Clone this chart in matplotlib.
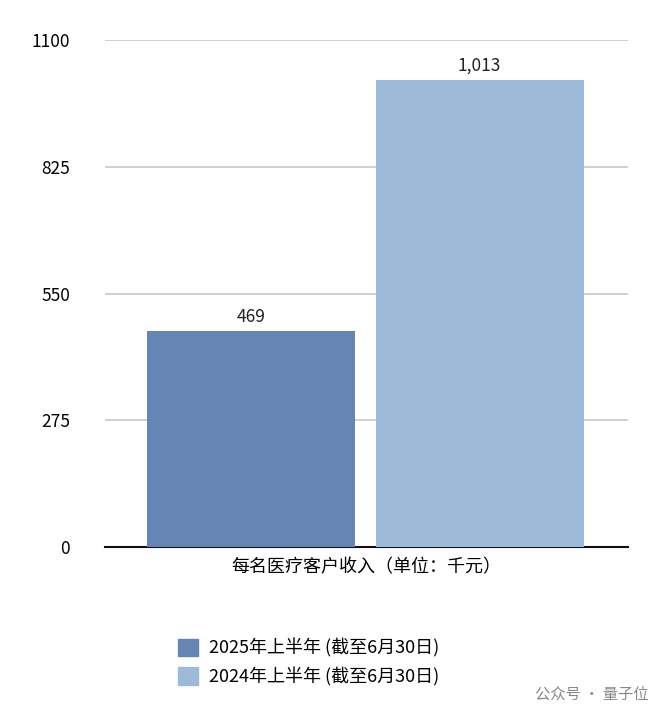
import matplotlib.pyplot as plt
import matplotlib.patches as mpatches

plt.rcParams['font.family'] = ['Noto Sans CJK SC', 'DejaVu Sans']

series = ['2025年上半年 (截至6月30日)', '2024年上半年 (截至6月30日)']
values = [469, 1013]
labels = ['469', '1,013']
colors = ['#6586b4', '#9dbad9']
yticks = [0, 275, 550, 825, 1100]
category = '每名医疗客户收入（单位：千元）'

fig = plt.figure(figsize=(6.6, 7.2), dpi=100)
ax = fig.add_axes([0.159, 0.240, 0.793, 0.704])

xpos = [0.279, 0.716]
ax.bar(xpos, values, width=0.398, color=colors, zorder=3)
for x, v, t in zip(xpos, values, labels):
    ax.text(x, v + 12, t, ha='center', va='bottom', fontsize=12.5, color='#222222')

ax.set_xlim(0, 1)
ax.set_ylim(0, 1100)
ax.set_yticks(yticks)
ax.set_yticklabels([str(t) for t in yticks], fontsize=12.5)
ax.tick_params(axis='y', length=0, pad=25)
ax.set_xticks([])
ax.grid(axis='y', color='#c8c8c8', linewidth=1.2, zorder=0)
for s in ['top', 'right', 'left']:
    ax.spines[s].set_visible(False)
ax.spines['bottom'].set_linewidth(1.5)
ax.spines['bottom'].set_color('#111111')
ax.set_xlabel(category, fontsize=13, labelpad=8)

handles = [mpatches.Patch(color=c, label=s) for c, s in zip(colors, series)]
fig.legend(handles=handles, loc='center left', bbox_to_anchor=(0.245, 0.08),
           frameon=False, fontsize=13, handlelength=1.1, handleheight=1.1,
           labelspacing=0.5, handletextpad=0.6)

fig.text(0.81, 0.035, '公众号 · 量子位', fontsize=11, color='#888888', ha='left', va='center')

fig.savefig('out.png')
